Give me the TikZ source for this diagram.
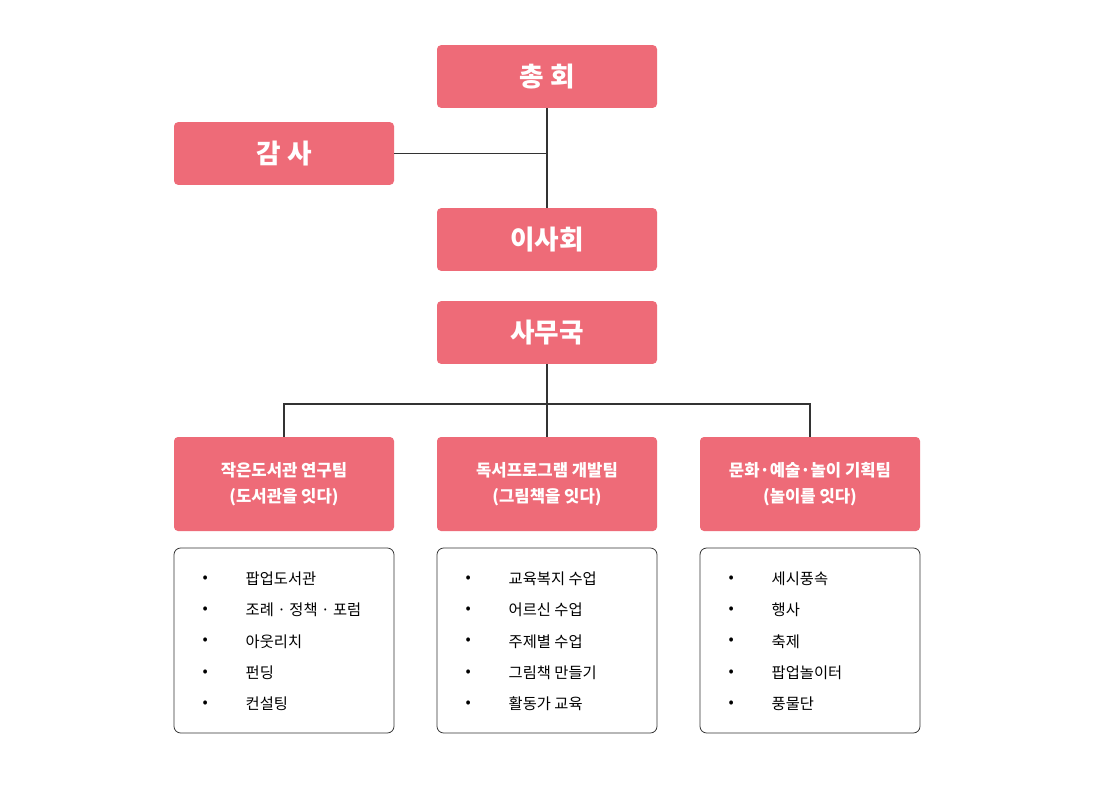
\documentclass[tikz,border=0pt]{standalone}
\usepackage{fontspec}
\newfontfamily\kr{Noto Sans CJK KR}
\newfontfamily\krb{Noto Sans CJK KR}[FakeBold=0]
\definecolor{pink}{HTML}{EE6B78}
\definecolor{line}{HTML}{333333}
\begin{document}
\begin{tikzpicture}[x=0.75pt,y=-0.75pt,
  pbox/.style={fill=pink,rounded corners=3pt,minimum width=165pt,inner sep=0pt,text=white,align=center},
  big/.style={pbox,minimum height=47pt,font=\kr\bfseries\fontsize{20}{24}\selectfont},
  team/.style={pbox,minimum height=70.5pt,font=\kr\bfseries\fontsize{12.5}{19}\selectfont},
  lbox/.style={draw=line,line width=0.6pt,rounded corners=5pt,minimum width=165pt,minimum height=138.75pt},
  itm/.style={anchor=west,font=\kr\fontsize{11.5}{14}\selectfont,text=black},
  conn/.style={draw=line,line width=1pt}]
\path[use as bounding box,fill=white] (0,0) rectangle (1100,799);
\node[big] (ch) at (547,76.5) {총 회};
\node[big] (gs) at (284,153.5) {감 사};
\node[big] (is) at (547,239.5) {이사회};
\node[big] (sm) at (547,332.5) {사무국};
\node[team] (t1) at (284,484) {작은도서관 연구팀\\(도서관을 잇다)};
\node[team] (t2) at (547,484) {독서프로그램 개발팀\\(그림책을 잇다)};
\node[team] (t3) at (810,484) {문화·예술·놀이 기획팀\\(놀이를 잇다)};
\coordinate (j) at (547,153.5);
\coordinate (h) at (547,404);
\path[conn] (ch.south) -- (is.north);
\path[conn] (gs.east) -- (j);
\path[conn] (sm.south) -- (h);
\path[conn] (t1.north) |- (h) -| (t3.north);
\path[conn] (h) -- (t2.north);
\foreach \c/\n/\a/\b/\cc/\d/\e in {
 284/l1/팝업도서관/조례 · 정책 · 포럼/아웃리치/펀딩/컨설팅,
 547/l2/교육복지 수업/어르신 수업/주제별 수업/그림책 만들기/활동가 교육,
 810/l3/세시풍속/행사/축제/팝업놀이터/풍물단}{
 \node[lbox] (\n) at (\c,640.5) {};
 \foreach \t [count=\i] in {\a,\b,\cc,\d,\e}{
   \pgfmathsetmacro\yy{579+31.25*(\i-1)}
   \node[itm] at (\c-86,\yy) {•};
   \node[itm] at (\c-43,\yy) {\t};
 }
}
\end{tikzpicture}
\end{document}
